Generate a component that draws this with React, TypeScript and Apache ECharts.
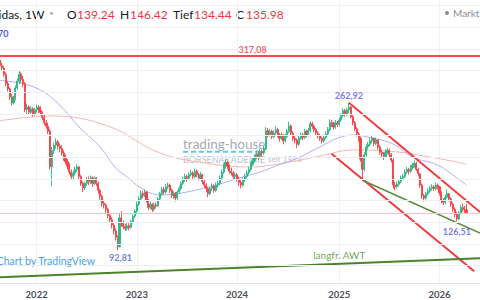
import React, { useEffect, useRef } from "react";
import * as echarts from "echarts";

// weekly candles [open, high, low, close]
const w2021 = [
  [312, 314, 303, 306], [306, 309, 300, 303], [303, 305, 293, 296], [296, 298, 282, 285],
  [285, 288, 276, 279], [279, 281, 266, 270], [270, 273, 260, 263], [263, 271, 261, 268],
  [268, 283, 266, 280], [280, 291, 278, 288], [288, 300, 285, 296], [296, 298, 286, 290],
  [290, 294, 281, 285], [285, 287, 252, 255], [255, 262, 250, 258], [258, 260, 249, 252],
  [252, 259, 250, 256], [256, 258, 247, 250], [250, 257, 248, 255],
];
const w2022 = [
  [255, 261, 252, 258], [258, 260, 251, 254], [254, 259, 249, 252], [252, 253, 243, 246],
  [246, 249, 237, 240], [240, 243, 233, 236], [236, 240, 227, 230], [230, 233, 186, 189],
  [189, 212, 167, 208], [208, 217, 204, 214], [214, 222, 210, 218], [218, 220, 209, 213],
  [213, 216, 206, 210], [210, 214, 202, 205], [205, 208, 196, 200], [200, 203, 192, 195],
  [195, 198, 186, 190], [190, 193, 180, 183], [183, 186, 174, 178], [178, 185, 175, 182],
  [182, 189, 179, 186], [186, 192, 183, 189], [189, 190, 175, 178], [178, 180, 167, 170],
  [170, 172, 160, 165], [165, 172, 162, 170], [170, 177, 167, 174], [174, 178, 168, 172],
  [172, 179, 169, 176], [176, 178, 166, 170], [170, 178, 168, 176], [176, 177, 167, 170],
  [170, 172, 158, 162], [162, 164, 151, 155], [155, 157, 143, 147], [147, 151, 141, 145],
  [145, 147, 136, 140], [140, 142, 130, 133], [133, 136, 125, 128], [128, 131, 118, 122],
  [122, 124, 111, 115], [115, 118, 104, 108], [108, 110, 92.81, 97], [97, 136, 96, 130],
  [130, 138, 120, 124], [124, 127, 117, 120], [120, 123, 115, 118], [118, 125, 116, 121],
  [121, 124, 116, 119], [119, 128, 118, 126], [126, 134, 124, 132], [132, 140, 130, 138],
];
const w2023 = [
  [138, 149, 136, 146], [146, 155, 144, 152], [152, 162, 150, 158], [158, 161, 153, 156],
  [156, 163, 154, 160], [160, 161, 148, 150], [150, 152, 139, 142], [142, 149, 140, 146],
  [146, 147, 137, 140], [140, 148, 138, 145], [145, 148, 141, 144], [144, 154, 143, 152],
  [152, 160, 150, 158], [158, 166, 156, 163], [163, 166, 157, 160], [160, 169, 158, 166],
  [166, 171, 163, 168], [168, 170, 159, 162], [162, 164, 153, 156], [156, 161, 152, 158],
  [158, 160, 149, 153], [153, 162, 151, 160], [160, 167, 158, 164], [164, 172, 162, 170],
  [170, 178, 168, 175], [175, 181, 172, 178], [178, 180, 172, 176], [176, 183, 174, 180],
  [180, 186, 178, 182], [182, 184, 175, 178], [178, 187, 176, 184], [184, 186, 177, 180],
  [180, 182, 173, 176], [176, 183, 174, 180], [180, 181, 169, 172], [172, 174, 165, 168],
  [168, 170, 160, 164], [164, 166, 154, 158], [158, 166, 156, 164], [164, 170, 161, 167],
  [167, 169, 159, 162], [162, 171, 160, 168], [168, 173, 165, 170], [170, 179, 168, 176],
  [176, 186, 174, 183], [183, 193, 181, 190], [190, 198, 187, 194], [194, 196, 186, 190],
  [190, 192, 181, 184], [184, 188, 179, 182], [182, 184, 174, 178], [178, 183, 175, 180],
];
const w2024 = [
  [180, 182, 172, 175], [175, 178, 167, 171], [171, 174, 164, 168], [168, 177, 166, 174],
  [174, 181, 172, 178], [178, 185, 176, 182], [182, 189, 180, 186], [186, 195, 184, 192],
  [192, 199, 190, 196], [196, 203, 194, 200], [200, 208, 198, 204], [204, 206, 197, 201],
  [201, 210, 199, 207], [207, 209, 201, 205], [205, 213, 203, 210], [210, 235, 208, 231],
  [231, 234, 223, 226], [226, 233, 224, 230], [230, 232, 221, 224], [224, 231, 222, 228],
  [228, 236, 226, 232], [232, 234, 223, 226], [226, 228, 218, 222], [222, 229, 220, 226],
  [226, 227, 215, 219], [219, 227, 217, 224], [224, 233, 222, 230], [230, 241, 228, 236],
  [236, 238, 225, 228], [228, 230, 219, 222], [222, 225, 216, 220], [220, 222, 211, 215],
  [215, 225, 213, 222], [222, 229, 220, 226], [226, 228, 220, 223], [223, 233, 221, 230],
  [230, 232, 223, 226], [226, 234, 224, 231], [231, 242, 229, 239], [239, 241, 233, 236],
  [236, 238, 229, 232], [232, 234, 225, 228], [228, 230, 222, 225], [225, 227, 219, 222],
  [222, 224, 216, 219], [219, 226, 217, 223], [223, 230, 221, 227], [227, 235, 225, 232],
  [232, 244, 230, 240], [240, 243, 235, 238], [238, 241, 232, 235], [235, 243, 233, 240],
  [240, 242, 235, 238],
];
const w2025 = [
  [238, 246, 236, 243], [243, 251, 241, 248], [248, 257, 246, 254], [254, 256, 247, 250],
  [250, 257, 248, 255], [255, 262.92, 251, 258], [258, 259, 245, 247], [247, 249, 237, 240],
  [240, 242, 230, 233], [233, 235, 224, 227], [227, 229, 218, 222], [222, 224, 195, 198],
  [198, 201, 173, 186], [186, 206, 184, 203], [203, 215, 201, 212], [212, 218, 209, 215],
  [215, 222, 213, 219], [219, 226, 216, 222], [222, 223, 213, 216], [216, 223, 214, 220],
  [220, 221, 209, 212], [212, 214, 203, 206], [206, 209, 200, 204], [204, 206, 197, 201],
  [201, 209, 199, 206], [206, 211, 204, 208], [208, 210, 200, 203], [203, 205, 194, 197],
  [197, 199, 164, 168], [168, 172, 162, 166], [166, 172, 164, 169], [169, 175, 167, 172],
  [172, 179, 170, 176], [176, 181, 174, 178], [178, 186, 176, 183], [183, 189, 181, 186],
  [186, 188, 180, 184], [184, 191, 182, 188], [188, 194, 186, 191], [191, 196.5, 188, 193],
  [193, 195, 184, 186], [186, 188, 178, 181], [181, 182, 165, 168], [168, 170, 152, 156],
  [156, 158, 149, 153], [153, 160, 151, 158], [158, 164, 156, 161], [161, 167, 159, 164],
  [164, 169, 162, 166], [166, 168, 161, 164], [164, 171, 162, 168], [168, 170, 163, 166],
];
const w2026 = [
  [166, 167, 156, 159], [159, 161, 147, 150], [150, 153, 145, 148], [148, 157, 146, 154],
  [154, 163, 152, 158], [158, 159, 149, 152], [152, 154, 143, 146], [146, 148, 137, 140],
  [140, 142, 131, 134], [134, 137, 126.51, 129], [129, 138, 128, 136], [136, 145, 134, 142],
  [142, 147, 137, 140], [140, 144, 136, 139.24], [139.24, 146.42, 134.44, 135.98],
];

const FUTURE_WEEKS = 7;
const gridTicks = [75, 100, 125, 150, 175, 200, 225, 250, 275, 300, 325, 350, 375];
const resistance = 317.08;
const lastClose = 135.98;

// moving averages: [week index, value]
const maFast = [
  [0, 288.7], [10, 285.8], [21, 277.7], [31, 260.4], [41, 235], [52, 212], [60, 187.7],
  [66, 177.4], [73, 164.7], [83, 156.6], [97, 160], [114, 169.3], [124, 176.2], [135, 183.1],
  [143, 190], [152, 197], [166, 212], [174, 221.2], [183, 225.8], [193, 222.3], [204, 215.4],
  [214, 200.4], [227, 191.2], [237, 176.2], [242, 168.1],
];
const maSlow = [
  [0, 242.3], [27, 247.7], [56, 236.2], [83, 205], [110, 192.3], [130, 188.9], [150, 194.6],
  [166, 201.5], [183, 208.5], [201, 207.3], [223, 200.4], [242, 192.3],
];

// trend lines: [week index, price]
const channelUpper = [[181, 262.92], [249, 136.9]];
const channelLower = [[172, 204.2], [246, 68.5]];
const supportShort = [[188, 173.5], [249, 112.7]];
const supportLong = [[0, 61.6], [249, 83.5]];

const legendValues = { O: "139.24", H: "146.42", Tief: "134.44", C: "135.98" };

const UP = "#26b985";
const DOWN = "#f43f45";
const BLUE_LABEL = "#5558e6";
const GRID = "#eef0f6";

export default function App() {
  const ref = useRef<HTMLDivElement>(null);

  useEffect(() => {
    if (!ref.current) return;
    const chart = echarts.init(ref.current, undefined, { renderer: "svg" });

    const candles = [...w2021, ...w2022, ...w2023, ...w2024, ...w2025, ...w2026];
    const weeks: string[] = [];
    const t0 = Date.UTC(2021, 7, 23);
    for (let i = 0; i < candles.length + FUTURE_WEEKS; i++) {
      weeks.push(new Date(t0 + i * 7 * 86400000).toISOString().slice(0, 10));
    }
    const isYearStart = (v: string) => v.slice(5, 7) === "01" && Number(v.slice(8, 10)) <= 7;

    const lbl = (text: string, color: string, position: string, distance: number, extra: any = {}) => ({
      show: true,
      formatter: text,
      color,
      position,
      distance,
      fontSize: 9,
      fontWeight: "bold",
      fontFamily: "Lato",
      ...extra,
    });

    const mid = supportLong[0][1] + ((supportLong[1][1] - supportLong[0][1]) * 176) / 249;

    const headerFont = { fontFamily: "Lato", fontSize: 12 };
    const hx: Array<[string, number, string]> = [
      ["O", 67, "#131722"], [legendValues.O, 77, "#f23645"],
      ["H", 120, "#131722"], [legendValues.H, 130, "#f23645"],
      ["Tief", 173, "#131722"], [legendValues.Tief, 194, "#f23645"],
      ["C", 236, "#131722"], [legendValues.C, 246, "#f23645"],
    ];

    const option: any = {
      animation: false,
      backgroundColor: "#ffffff",
      grid: { left: 0, right: 0, top: 0, bottom: 16.3 },
      xAxis: {
        type: "category",
        data: weeks,
        boundaryGap: false,
        axisLine: { show: true, lineStyle: { color: "#e0e3eb" } },
        axisTick: { show: false },
        axisLabel: {
          interval: (_i: number, v: string) => isYearStart(v),
          formatter: (v: string) => v.slice(0, 4),
          color: "#4a4d57",
          fontSize: 9.5,
          fontWeight: "bold",
          fontFamily: "Lato",
          margin: 6,
        },
        splitLine: {
          show: true,
          interval: (_i: number, v: string) => isYearStart(v),
          lineStyle: { color: GRID, width: 1 },
        },
      },
      yAxis: { type: "value", min: 54.2, max: 381.6, show: false },
      series: [
        {
          type: "line",
          data: [],
          z: 1,
          silent: true,
          markLine: {
            silent: true,
            symbol: "none",
            label: { show: false },
            data: [
              ...gridTicks.map((v) => ({ yAxis: v, lineStyle: { color: GRID, width: 1, type: "solid" } })),
              { yAxis: lastClose, lineStyle: { color: "#f7c3c6", width: 1, type: "solid" } },
              { yAxis: resistance, lineStyle: { color: "#f4494d", width: 2, type: "solid" } },
            ],
          },
        },
        {
          type: "line", data: maSlow, smooth: 0.4, symbol: "none", z: 2, silent: true,
          lineStyle: { color: "#f7b5b5", width: 1 },
        },
        {
          type: "line", data: maFast, smooth: 0.4, symbol: "none", z: 2, silent: true,
          lineStyle: { color: "#aeb0f4", width: 1 },
        },
        {
          type: "candlestick",
          data: candles.map(([o, h, l, c]) => [o, c, l, h]),
          barWidth: 1.6,
          z: 3,
          itemStyle: { color: UP, color0: DOWN, borderColor: UP, borderColor0: DOWN, borderWidth: 0.9 },
        },
        { type: "line", data: channelUpper, symbol: "none", z: 4, silent: true, lineStyle: { color: "#f23a3f", width: 2 } },
        { type: "line", data: channelLower, symbol: "none", z: 4, silent: true, lineStyle: { color: "#f23a3f", width: 2 } },
        { type: "line", data: supportShort, symbol: "none", z: 4, silent: true, lineStyle: { color: "#5a8c3a", width: 1.6 } },
        { type: "line", data: supportLong, symbol: "none", z: 4, silent: true, lineStyle: { color: "#4a832b", width: 2 } },
        {
          type: "scatter",
          z: 5,
          silent: true,
          symbolSize: 1,
          itemStyle: { color: "rgba(0,0,0,0)" },
          data: [
            { value: [181, 262.92], label: lbl("262,92", BLUE_LABEL, "top", 2) },
            { value: [61, 92.81], label: lbl("92,81", BLUE_LABEL, "bottom", 2, { offset: [3, 0] }) },
            { value: [237, 126.51], label: lbl("126,51", BLUE_LABEL, "bottom", 5) },
            { value: [131, resistance], label: lbl("317,08", "#f0383e", "top", 1) },
            { value: [176, mid], label: lbl("langfr. AWT", "#4a8a2c", "top", 3, { fontSize: 10, fontWeight: "normal" }) },
          ],
        },
      ],
      graphic: [
        {
          type: "group",
          z: 1,
          silent: true,
          children: [
            { type: "text", x: 183, y: 143.5, style: { text: "trading-house", fill: "#a3abb6", fontSize: 13.5, fontFamily: "Lato", verticalAlign: "middle" } },
            { type: "line", shape: { x1: 183, y1: 151.7, x2: 263, y2: 151.7 }, style: { stroke: "#62c6f2", lineWidth: 2, lineDash: [5, 3] } },
            { type: "text", x: 183, y: 159, style: { text: "BÖRSENAKADEMIE", fill: "#b9bfc7", fontSize: 9, fontFamily: "Lato", verticalAlign: "middle" } },
            { type: "text", x: 268, y: 158.5, style: { text: "seit 1996", fill: "#b9bfc7", fontSize: 8.5, fontStyle: "italic", fontFamily: "Lato", verticalAlign: "middle" } },
          ],
        },
        {
          type: "group",
          z: 50,
          silent: true,
          children: [
            { type: "text", x: 44.5, y: 14, style: { text: "Adidas, 1W", fill: "#131722", align: "right", verticalAlign: "middle", ...headerFont } },
            { type: "polygon", shape: { points: [[49.5, 12.5], [53.5, 12.5], [51.5, 15]] }, style: { fill: "#8f939c" } },
            ...hx.map(([t, x, c]) => ({
              type: "text", x, y: 14, style: { text: t, fill: c, verticalAlign: "middle", ...headerFont },
            })),
            { type: "circle", shape: { cx: 447, cy: 13, r: 2 }, style: { fill: "#8a8e97" } },
            { type: "text", x: 453, y: 13, style: { text: "Markt geschlossen", fill: "#8a8e97", fontSize: 10, fontFamily: "Lato", verticalAlign: "middle" } },
            { type: "text", x: 8.5, y: 33.3, style: { text: "335,70", fill: BLUE_LABEL, fontSize: 9, fontWeight: "bold", fontFamily: "Lato", align: "right", verticalAlign: "middle" } },
            { type: "text", x: 95, y: 260.5, style: { text: "Chart by TradingView", fill: "#4ea2dc", fontSize: 10.5, fontFamily: "Lato", align: "right", verticalAlign: "middle" } },
          ],
        },
      ],
    };

    chart.setOption(option);
    return () => chart.dispose();
  }, []);

  return <div ref={ref} style={{ width: 480, height: 300, position: "absolute", left: 0, top: 0 }} />;
}
